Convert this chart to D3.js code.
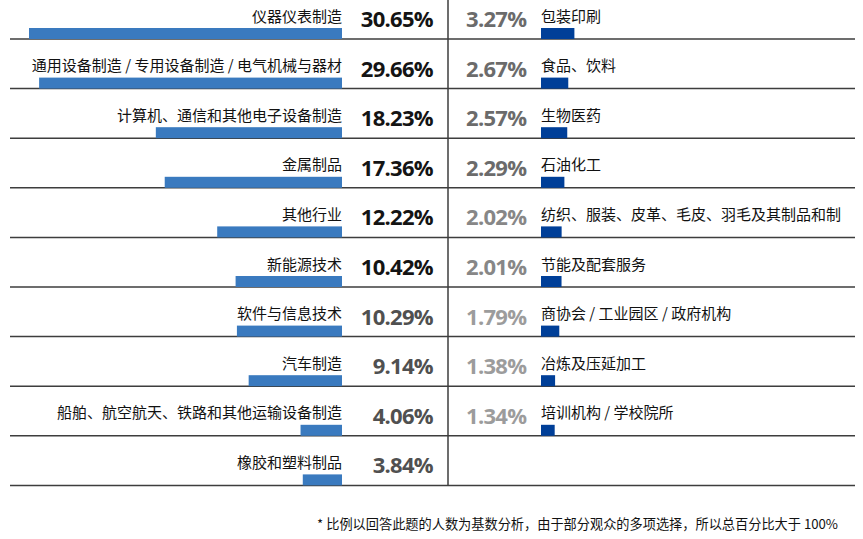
<!DOCTYPE html>
<html>
<head>
<meta charset="utf-8">
<script src="https://cdn.jsdelivr.net/npm/d3@7"></script>
<style>
  html, body { margin: 0; padding: 0; background: #fff; }
  svg { display: block; }
</style>
</head>
<body>
<svg id="chart" width="863" height="539"></svg>
<script>
const leftCategories = ["仪器仪表制造", "通用设备制造 / 专用设备制造 / 电气机械与器材", "计算机、通信和其他电子设备制造", "金属制品", "其他行业", "新能源技术", "软件与信息技术", "汽车制造", "船舶、航空航天、铁路和其他运输设备制造", "橡胶和塑料制品"];
const leftValues = [30.65, 29.66, 18.23, 17.36, 12.22, 10.42, 10.29, 9.14, 4.06, 3.84];
const rightCategories = ["包装印刷", "食品、饮料", "生物医药", "石油化工", "纺织、服装、皮革、毛皮、羽毛及其制品和制", "节能及配套服务", "商协会 / 工业园区 / 政府机构", "冶炼及压延加工", "培训机构 / 学校院所"];
const rightValues = [3.27, 2.67, 2.57, 2.29, 2.02, 2.01, 1.79, 1.38, 1.34];
const footnote = "* 比例以回答此题的人数为基数分析，由于部分观众的多项选择，所以总百分比大于 100%";

const svg = d3.select("#chart");
const cjk = "'Noto Sans CJK SC', 'Noto Sans', sans-serif";
const num = "'Open Sans', 'Noto Sans', sans-serif";

const rows = d3.scaleBand().domain(d3.range(10)).range([-10.6, 485.4]).paddingInner(0).paddingOuter(0);
const bottom = i => rows(i) + rows.bandwidth();

const w = d3.scaleLinear().domain([0, 30.65]).range([0, 313]);
const valueColor = d3.scaleThreshold().domain([1.9, 2.2, 3.5, 10.35]).range(["#9c9c9c", "#878787", "#6b6b6b", "#505050", "#141414"]);

const splitX = 448, leftEdge = 342, rightEdge = 541;

// grid lines
svg.append("g").selectAll("line").data(d3.range(10)).join("line")
  .attr("x1", 10).attr("x2", 855)
  .attr("y1", d => bottom(d)).attr("y2", d => bottom(d))
  .attr("stroke", "#3d3d3d").attr("stroke-width", 1.5);
svg.append("line").attr("x1", splitX).attr("x2", splitX).attr("y1", 0).attr("y2", bottom(9))
  .attr("stroke", "#3d3d3d").attr("stroke-width", 1.5);

// left side
const L = svg.append("g").selectAll("g").data(leftValues).join("g");
L.append("rect")
  .attr("x", d => leftEdge - w(d)).attr("width", d => w(d))
  .attr("y", (d, i) => bottom(i) - 11).attr("height", 11)
  .attr("fill", "#3a7abf");
L.append("text")
  .attr("x", leftEdge).attr("y", (d, i) => bottom(i) - 24)
  .attr("text-anchor", "end").attr("dominant-baseline", "central")
  .attr("font-family", cjk).attr("font-size", 15).attr("fill", "#111")
  .text((d, i) => leftCategories[i]);
L.append("text")
  .attr("x", 433).attr("y", (d, i) => bottom(i) - 21)
  .attr("text-anchor", "end").attr("dominant-baseline", "central")
  .attr("font-family", num).attr("font-weight", 700).attr("font-size", 22)
  .attr("letter-spacing", -0.7)
  .attr("fill", d => valueColor(d))
  .text(d => d.toFixed(2) + "%");

// right side
const R = svg.append("g").selectAll("g").data(rightValues).join("g");
R.append("rect")
  .attr("x", rightEdge).attr("width", d => w(d))
  .attr("y", (d, i) => bottom(i) - 11).attr("height", 11)
  .attr("fill", "#003f98");
R.append("text")
  .attr("x", rightEdge).attr("y", (d, i) => bottom(i) - 24)
  .attr("text-anchor", "start").attr("dominant-baseline", "central")
  .attr("font-family", cjk).attr("font-size", 15).attr("fill", "#111")
  .text((d, i) => rightCategories[i]);
R.append("text")
  .attr("x", 466).attr("y", (d, i) => bottom(i) - 21)
  .attr("text-anchor", "start").attr("dominant-baseline", "central")
  .attr("font-family", num).attr("font-weight", 700).attr("font-size", 22)
  .attr("letter-spacing", -0.7)
  .attr("fill", d => valueColor(d))
  .text(d => d.toFixed(2) + "%");

// footnote
svg.append("text")
  .attr("x", 838).attr("y", 523)
  .attr("text-anchor", "end").attr("dominant-baseline", "central")
  .attr("font-family", cjk).attr("font-size", 13.2).attr("fill", "#111")
  .text(footnote);
</script>
</body>
</html>
